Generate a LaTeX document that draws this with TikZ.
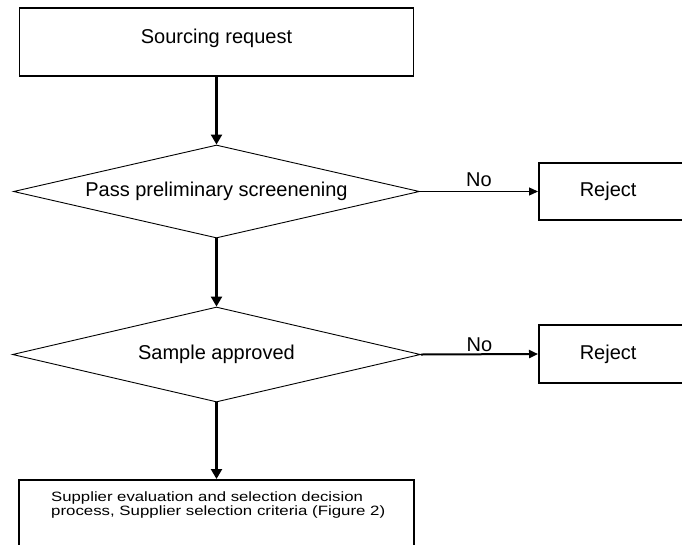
\documentclass[tikz,border=0pt]{standalone}
\usepackage{fontspec}
\usepackage{graphicx}
\setmainfont{Liberation Sans}
\usetikzlibrary{shapes.geometric,arrows.meta}
\begin{document}
\begin{tikzpicture}[x=1pt,y=-1pt,
  box/.style={draw=black, line width=1.6pt, inner sep=0pt},
  decision/.style={diamond, draw=black, line width=0.9pt, inner sep=0pt, aspect=4.4},
  lbl/.style={font=\fontsize{20}{22}\selectfont},
  flow/.style={line width=2.2pt, -{Triangle[length=10pt,width=11pt]}},
  nobranch/.style={-{Triangle[length=9pt,width=8pt]}},
  nolabel/.style={lbl, above, outer sep=0pt}]
% page area
\clip (0,0) rectangle (682,544);
\fill[white] (0,0) rectangle (682,544);

% main column
\node[box, lbl, minimum width=394pt, minimum height=68pt,
      text height=14pt, text depth=12pt] (req) at (216.5,42) {Sourcing request};
\node[decision, lbl, minimum width=406pt, minimum height=93pt] (d1) at (216.5,191.5)
  {Pass preliminary screenening};
\node[decision, lbl, minimum width=408pt, minimum height=95pt] (d2) at (216.5,354.5)
  {Sample approved};
\node[box, minimum width=395pt, minimum height=90pt, anchor=north] (eval) at (216.5,479) {};
\node[anchor=north west, inner sep=0pt, align=left,
      font=\fontsize{13.5}{12.5}\selectfont] (evaltext) at (51,492)
  {\scalebox{1.24}[1]{Supplier evaluation and selection decision}\\
   \scalebox{1.247}[1]{process, Supplier selection criteria (Figure 2)}};

% rejection boxes (running off the right edge)
\node[box, lbl, anchor=west, minimum width=170pt, minimum height=57pt,
      inner xsep=41pt, text width=88pt, align=left] (rej1) at (538,191.5) {Reject};
\node[box, lbl, anchor=west, minimum width=170pt, minimum height=58pt,
      inner xsep=41pt, text width=88pt, align=left] (rej2) at (538,354) {Reject};

% connectors
\draw[flow] (req.south) -- (d1.north);
\draw[flow] (d1.south) -- (d2.north);
\draw[flow] (d2.south) -- (eval.north);
\draw[nobranch, line width=1.2pt] (d1.east) -- node[nolabel, inner sep=4.5pt] (no1) {No} (rej1.west);
\draw[nobranch, line width=2pt] (d2.east) -- node[nolabel, inner sep=2.5pt] (no2) {No} (rej2.west);
\end{tikzpicture}
\end{document}
